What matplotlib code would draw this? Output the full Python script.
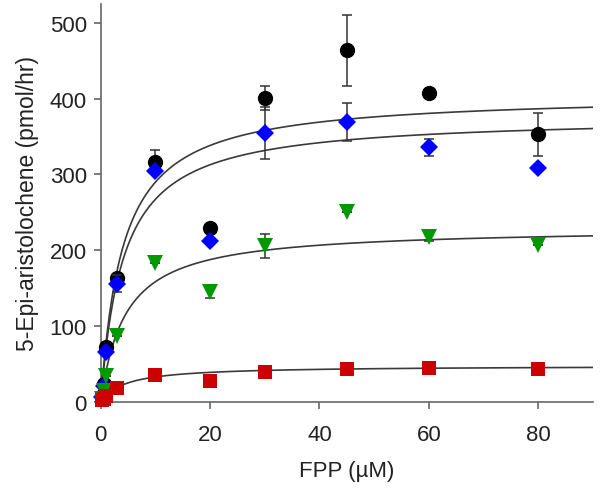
import numpy as np
import matplotlib
matplotlib.use("Agg")
import matplotlib.pyplot as plt

plt.rcParams['font.family'] = ['Liberation Sans', 'DejaVu Sans']

# FPP concentrations (µM)
fpp = [0.25, 0.5, 1, 3, 10, 20, 30, 45, 60, 80]

# 5-Epi-aristolochene production (pmol/hr)
black_y = [8, 24, 73, 163, 317, 230, 401, 464, 407, 353]
black_err = [0, 0, 0, 0, 15, 0, 16, 47, 0, 28]
blue_y = [6, 21, 66, 156, 305, 212, 355, 369, 336, 309]
blue_err = [0, 0, 0, 11, 0, 0, 34, 25, 11, 0]
green_y = [4, 14, 34, 87, 183, 145, 206, 250, 218, 207]
green_err = [0, 0, 0, 0, 0, 8, 16, 0, 6, 0]
red_y = [2, 4, 8, 18, 35, 28, 40, 44, 45, 44]
red_err = [0, 0, 0, 0, 0, 0, 0, 0, 0, 0]

# Michaelis-Menten fit parameters (Vmax, Km)
fit_black = (406, 4.0)
fit_blue = (377, 4.1)
fit_green = (230, 4.5)
fit_red = (47.8, 4.5)

fig = plt.figure(figsize=(6.0, 4.89), dpi=100)
ax = fig.add_axes([0.168, 0.176, 0.820, 0.814])

xs = np.linspace(0, 90, 400)
for vmax, km in (fit_black, fit_blue, fit_green, fit_red):
    ax.plot(xs, vmax * xs / (km + xs), color='#3a3a3a', lw=1.2, zorder=2)

series = [
    (black_y, black_err, 'o', 'black', 11),
    (blue_y, blue_err, 'D', '#0000ff', 9.5),
    (green_y, green_err, 'v', '#009900', 11),
    (red_y, red_err, 's', '#cc0000', 9.5),
]
z = 3
for ys, err, mk, col, ms in series:
    ax.errorbar(fpp, ys, yerr=err, fmt='none', ecolor='#333333',
                elinewidth=1.1, capsize=3.5, capthick=1.1, zorder=z, clip_on=False)
    ax.plot(fpp, ys, linestyle='none', marker=mk, color=col, markersize=ms,
            markeredgewidth=0, zorder=z + 0.5, clip_on=False)
    z += 1

ax.set_xlim(0, 90)
ax.set_ylim(0, 525)
ax.set_xticks([0, 20, 40, 60, 80])
ax.set_yticks([0, 100, 200, 300, 400, 500])
for s in ('top', 'right'):
    ax.spines[s].set_visible(False)
for s in ('left', 'bottom'):
    ax.spines[s].set_color('#666666')
    ax.spines[s].set_linewidth(1.2)
ax.tick_params(direction='out', length=5, width=1.2, color='#666666',
               labelsize=16, labelcolor='#222222')
ax.tick_params(axis='x', pad=11)
ax.tick_params(axis='y', pad=5)
ax.set_xlabel('FPP (µM)', fontsize=16, color='#222222', labelpad=11)
ax.set_ylabel('5-Epi-aristolochene (pmol/hr)', fontsize=16.5, color='#222222', labelpad=8)

fig.savefig('out.png', dpi=100)
